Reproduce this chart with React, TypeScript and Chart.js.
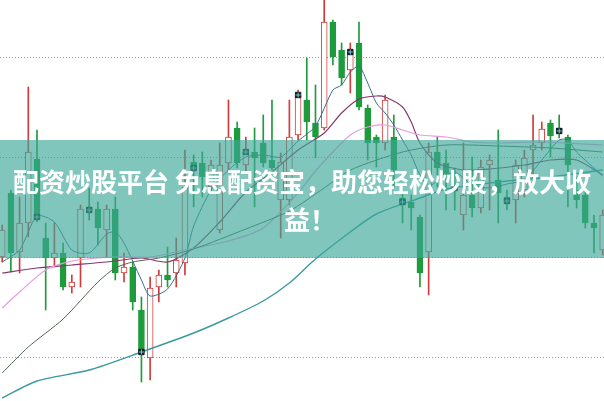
import React, { useEffect, useRef } from 'react';
import { Chart, registerables } from 'chart.js';

Chart.register(...registerables);

// Candles (index 0..69)
const opens = [15.00,18.20,15.25,16.70,19.90,15.95,14.95,15.20,13.50,14.95, 17.50,17.40,16.35,17.40,14.20,14.50,12.35,9.95,13.50,14.10, 14.20,14.70,19.75,19.70,18.50,16.35,19.70,21.45,19.60,20.25, 20.70,19.85,17.85,17.85,21.10,22.85,21.70,21.45,26.75,25.35, 24.35,25.70,22.45,21.00,20.70,21.00,17.95,17.75,17.00,15.25, 20.25,19.70,18.65,17.10,18.10,17.45,19.60,18.85,18.00,17.85, 18.35,20.35,20.70,21.70,21.45,21.00,18.35,18.10,16.70,15.35];
const closes = [16.35,15.20,16.70,20.25,17.00,14.95,15.20,13.50,13.75,17.40, 17.35,16.45,17.40,14.20,14.50,12.75,10.25,13.45,14.10,13.85, 14.85,18.50,19.45,19.00,19.60,19.60,21.00,19.70,20.25,19.95, 19.70,19.45,19.75,21.00,23.10,21.75,21.00,26.75,25.00,23.95, 25.25,22.50,20.70,20.70,22.85,19.35,17.75,17.45,14.20,20.25, 19.45,19.10,18.45,18.10,17.45,19.50,19.85,18.20,17.80,19.60, 19.95,20.60,21.40,21.05,21.30,19.60,17.85,16.70,16.45,17.10];
const highs = [16.60,18.35,18.00,23.50,21.35,16.70,16.70,15.70,14.10,17.60, 18.45,17.75,17.60,18.00,15.20,14.75,13.00,14.00,14.35,15.50, 15.95,20.35,20.10,20.25,19.85,20.70,22.85,21.75,21.00,21.45, 22.10,22.85,20.20,22.85,23.35,24.95,23.60,28.10,26.85,25.70, 25.70,26.75,22.60,21.10,23.10,22.10,18.20,18.10,17.10,20.70, 21.00,20.35,19.45,20.70,20.00,19.85,20.10,21.35,18.35,19.85, 20.35,22.10,21.75,21.85,22.10,21.10,19.00,18.35,17.10,17.35];
const lows = [14.75,14.25,14.20,16.00,16.75,12.35,14.50,13.35,13.20,13.50, 16.85,15.60,15.00,13.85,13.75,12.35,8.75,8.85,12.75,13.50, 13.50,14.10,17.50,18.00,18.20,16.20,19.20,19.45,19.20,17.50, 19.50,19.35,15.95,17.60,20.85,20.85,19.95,21.35,24.60,23.60, 23.20,22.35,19.85,19.50,20.35,18.50,16.70,16.35,13.50,13.10, 18.50,17.35,17.35,16.35,17.00,17.20,17.35,16.70,17.35,16.70, 18.00,18.35,20.35,20.00,20.95,17.50,17.45,16.45,15.20,15.10];

// Signal markers (candle index)
const markerIdx = [4,10,16,22,28,34,40,46,52,58,64];

// Moving averages (candle index, value)
const ma5Idx = [0,2,4,6,8,10,12,13,14,16,17,19,21,22,24,26,28,30,32,34,36,38,39,40,41,42,43,44,45,46,47,48,49,50,52,54,56,58,60,62,64,65,66,68,69];
const ma5Val = [14.75,15.35,17.05,16.75,15.35,15.20,16.15,16.25,15.70,13.85,13.05,13.40,14.95,16.55,18.35,19.35,20.00,20.10,20.00,20.80,21.55,23.35,23.60,24.25,24.55,23.70,22.70,22.20,21.60,20.85,20.10,19.10,18.55,18.80,19.25,18.60,18.45,18.65,18.85,19.85,20.85,20.85,20.25,19.45,19.05];
const ma10Idx = [0,4,8,12,16,19,22,25,28,31,34,37,39,41,43,44,46,47,48,50,53,56,60,63,66,69];
const ma10Val = [14.20,14.45,14.60,14.75,14.95,14.75,15.45,16.75,18.25,19.25,20.35,21.20,22.20,22.90,23.05,23.00,22.50,21.75,20.70,19.70,19.35,19.40,19.60,19.85,19.85,19.10];
const ma20Idx = [0,2,5,8,13,17,21,26,30,34,36,38,40,42,44,46,48,51,54,57,62,69];
const ma20Val = [12.45,13.25,14.35,14.80,15.00,15.00,15.35,15.80,16.45,18.20,19.30,20.25,21.10,21.50,21.60,21.35,21.10,21.00,20.75,20.70,20.75,20.60];
const ma30Idx = [0,3,7,11,13,15,18,22,28,33,37,40,46,51,57,63,69];
const ma30Val = [9.20,10.50,11.90,13.75,14.45,14.75,14.95,15.40,16.40,17.30,18.45,19.35,20.25,20.60,20.55,20.45,20.25];
const ma60Idx = [0,4,10,16,22,26,30,33,36,40,43,48,51,57,63,69];
const ma60Val = [7.95,8.80,9.35,10.25,11.20,11.95,12.80,13.70,14.90,16.25,17.15,17.95,18.40,18.75,19.00,19.35];

const gridValues = [10, 15, 20, 25];
const bannerLine1 = '配资炒股平台 免息配资宝，助您轻松炒股，放大收';
const bannerLine2 = '益！';

const RED = '#d23b3b';
const GREEN = '#1e9b3c';

export default function App() {
  const ref = useRef<HTMLCanvasElement | null>(null);

  useEffect(() => {
    document.body.style.margin = '0';
    const canvas = ref.current;
    if (!canvas) return;
    const idx = opens.map((_, i) => i);
    const up = idx.map((i) => closes[i] >= opens[i]);
    const line = (xs: number[], ys: number[], color: string, width: number) => ({
      type: 'line' as const,
      data: xs.map((x, k) => ({ x, y: ys[k] })),
      borderColor: color,
      borderWidth: width,
      pointRadius: 0,
      tension: 0.25,
      fill: false,
      order: 1,
    });

    const chart = new Chart(canvas, {
      type: 'bar',
      data: {
        datasets: [
          {
            type: 'bar',
            data: idx.map((i) => ({ x: i, y: [lows[i], highs[i]] })) as any,
            backgroundColor: idx.map((i) => (up[i] ? RED : GREEN)),
            barThickness: 1,
            grouped: false,
            order: 4,
          } as any,
          {
            type: 'bar',
            data: idx.map((i) => ({ x: i, y: [opens[i], closes[i]] })) as any,
            backgroundColor: idx.map((i) => (up[i] ? '#ffffff' : GREEN)),
            borderColor: idx.map((i) => (up[i] ? RED : GREEN)),
            borderWidth: 1,
            borderSkipped: false,
            barThickness: 6,
            grouped: false,
            order: 3,
          } as any,
          line(ma60Idx, ma60Val, '#3a9aa0', 1.4),
          line(ma30Idx, ma30Val, '#4f6650', 1),
          line(ma20Idx, ma20Val, '#e69ce0', 1.2),
          line(ma10Idx, ma10Val, '#86386a', 1.2),
          line(ma5Idx, ma5Val, '#35708a', 1),
          {
            type: 'scatter',
            data: markerIdx.map((i) => ({ x: i, y: closes[i] })),
            pointStyle: 'rect',
            pointRadius: 3.8,
            backgroundColor: '#10232b',
            borderColor: '#0a161b',
            borderWidth: 1,
            order: 0,
          } as any,
          {
            type: 'scatter',
            data: markerIdx.map((i) => ({ x: i, y: closes[i] })),
            pointStyle: 'cross',
            pointRadius: 2.5,
            borderColor: '#7fc4d4',
            borderWidth: 1,
            order: -1,
          } as any,
        ],
      },
      options: {
        animation: false,
        responsive: false,
        maintainAspectRatio: false,
        layout: { padding: 0, autoPadding: false },
        plugins: { legend: { display: false }, tooltip: { enabled: false } },
        scales: {
          x: { type: 'linear', min: -0.25, max: 69.15, display: false, offset: false, grid: { offset: false } },
          y: {
            type: 'linear',
            min: 7.8,
            max: 27.85,
            display: true,
            afterBuildTicks: (s: any) => {
              s.ticks = gridValues.map((v) => ({ value: v }));
            },
            afterFit: (s: any) => {
              s.width = 0;
            },
            ticks: { display: false },
            grid: { color: '#9c9c9c', lineWidth: 1, drawTicks: false },
            border: { display: false, dash: [1, 2] },
          } as any,
        },
      } as any,
    });
    return () => chart.destroy();
  }, []);

  return (
    <div style={{ position: 'fixed', left: 0, top: 0, width: 604, height: 401, overflow: 'hidden', background: '#fff' }}>
      <canvas ref={ref} width={604} height={401} style={{ display: 'block', width: 604, height: 401 }} />
      <div
        style={{
          position: 'absolute',
          left: 0,
          top: 140,
          width: 604,
          height: 118,
          background: 'rgba(62,168,152,0.65)',
          display: 'flex',
          flexDirection: 'column',
          alignItems: 'center',
          justifyContent: 'center',
          color: '#ffffff',
          fontFamily: '"Noto Sans CJK SC", "Noto Sans", sans-serif',
          fontWeight: 700,
          fontSize: 26,
          lineHeight: '37px',
          whiteSpace: 'nowrap',
          textAlign: 'center',
        }}
      >
        <div>{bannerLine1}</div>
        <div style={{ paddingLeft: 16, marginTop: 1 }}>{bannerLine2}</div>
      </div>
    </div>
  );
}
